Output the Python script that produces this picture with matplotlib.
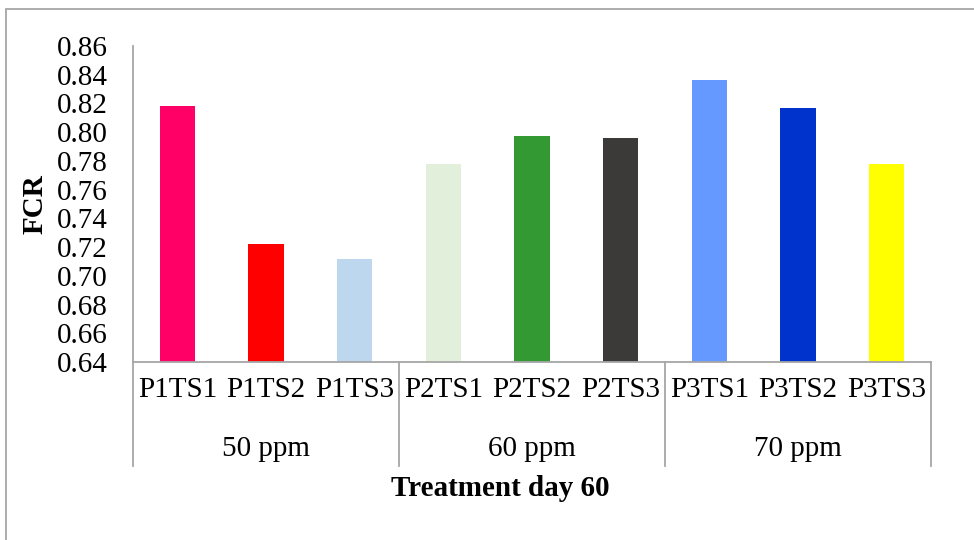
import matplotlib
matplotlib.use('Agg')
import matplotlib.pyplot as plt
from matplotlib.patches import Rectangle
from matplotlib.transforms import blended_transform_factory

plt.rcParams['font.family'] = ['Liberation Serif', 'DejaVu Serif']

# FCR values per treatment
categories = ['P1TS1', 'P1TS2', 'P1TS3', 'P2TS1', 'P2TS2', 'P2TS3', 'P3TS1', 'P3TS2', 'P3TS3']
fcr = [0.818, 0.722, 0.712, 0.778, 0.797, 0.796, 0.836, 0.817, 0.778]
groups = ['50 ppm', '60 ppm', '70 ppm']
colors = ['#FF0066', '#FF0000', '#BDD7EE', '#E2EFDA', '#339933', '#3B3A38', '#6699FF', '#0033CC', '#FFFF00']

W, H = 974, 540
fig = plt.figure(figsize=(W / 100, H / 100), dpi=100)
ax = fig.add_axes([133 / W, 1 - 362 / H, (931 - 133) / W, (362 - 46) / H])

grey = '#A6A6A6'
x = range(len(categories))
ax.bar(x, fcr, width=0.4, color=colors, zorder=2)

ax.set_xlim(-0.5, len(categories) - 0.5)
ax.set_ylim(0.64, 0.86)
ax.set_yticks([0.64 + 0.02 * i for i in range(12)])
ax.yaxis.set_major_formatter(plt.FuncFormatter(lambda v, p: f'{v:.2f}'))
ax.tick_params(axis='y', length=0, pad=18, labelsize=21)
ax.set_xticks(list(x))
ax.set_xticklabels(categories)
ax.tick_params(axis='x', length=0, pad=11, labelsize=21)

for side in ['top', 'right']:
    ax.spines[side].set_visible(False)
for side in ['left', 'bottom']:
    ax.spines[side].set_color(grey)
    ax.spines[side].set_linewidth(1.3)

# group separators and group names under the category labels
trans = blended_transform_factory(ax.transData, ax.transAxes)
sep_depth = -(466 - 362) / (362 - 46)
for b in [-0.5, 2.5, 5.5, 8.5]:
    ax.plot([b, b], [0, sep_depth], color=grey, lw=1.3, transform=trans, clip_on=False)
for i, g in enumerate(groups):
    ax.text(3 * i + 1, -(449 - 362) / (362 - 46), g, transform=trans,
            ha='center', va='center', fontsize=21)

fig.text(500 / W, 1 - 488 / H, 'Treatment day 60', ha='center', va='center',
         fontsize=21, fontweight='bold')
fig.text(35 / W, 1 - 204 / H, 'FCR', ha='center', va='center', rotation=90,
         fontsize=21, fontweight='bold')

# chart area border
fig.patches.append(Rectangle((6 / W, -0.2), 1.2, 1.2 - 9 / H, transform=fig.transFigure,
                             fill=False, edgecolor=grey, lw=1.3))

fig.savefig('out.png', dpi=100)
